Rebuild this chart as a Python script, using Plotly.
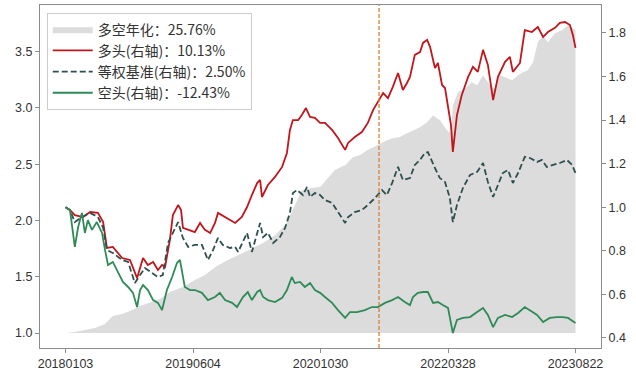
import plotly.graph_objects as go

# x positions are trading-day indices (0 = 20180103, 1368 = 20230822)
tick_idx = [0, 342, 684, 1026, 1368]
tick_labels = ["20180103", "20190604", "20201030", "20220328", "20230822"]
split_idx = 841

# 多空年化 (left axis, filled from 1.0)
ls_idx = [0, 25, 52, 79, 106, 127, 152, 173, 200, 227, 253, 280, 315, 347, 374, 406, 441, 481,
          530, 562, 589, 607, 621, 634, 661, 683, 704, 723, 737, 750, 771, 790, 809, 830, 843,
          862, 878, 897, 916, 932, 951, 970, 986, 997, 1004, 1023, 1034, 1039, 1053, 1072, 1090,
          1104, 1120, 1139, 1152, 1165, 1179, 1198, 1214, 1227, 1240, 1254, 1267, 1281, 1294,
          1313, 1332, 1348, 1361, 1368]
ls_val = [1.000, 1.009, 1.027, 1.044, 1.080, 1.151, 1.169, 1.195, 1.240, 1.275, 1.302, 1.364,
          1.409, 1.471, 1.515, 1.595, 1.657, 1.719, 1.799, 1.870, 1.959, 2.075, 2.181, 2.270,
          2.288, 2.297, 2.377, 2.448, 2.474, 2.492, 2.563, 2.581, 2.625, 2.661, 2.687, 2.714,
          2.732, 2.741, 2.776, 2.803, 2.829, 2.874, 2.936, 2.909, 2.892, 2.803, 2.776, 3.025,
          3.140, 3.176, 3.229, 3.202, 3.291, 3.202, 3.176, 3.291, 3.273, 3.247, 3.291, 3.318,
          3.336, 3.407, 3.584, 3.647, 3.584, 3.664, 3.691, 3.735, 3.709, 3.691]

# 多头 (right axis)
long_idx = [0, 12, 25, 47, 66, 87, 101, 111, 127, 138, 152, 173, 192, 208, 221, 235, 248, 259,
            267, 280, 288, 302, 310, 315, 329, 347, 361, 374, 388, 401, 409, 428, 455, 473, 487,
            500, 514, 522, 527, 543, 562, 581, 594, 602, 610, 624, 634, 645, 656, 669, 683, 696,
            715, 731, 750, 758, 776, 795, 811, 825, 838, 852, 865, 878, 892, 905, 916, 924, 937,
            951, 959, 970, 978, 991, 999, 1010, 1018, 1026, 1034, 1039, 1045, 1050, 1063, 1080,
            1093, 1106, 1120, 1133, 1147, 1160, 1179, 1192, 1200, 1219, 1232, 1251, 1267, 1281,
            1294, 1313, 1326, 1340, 1353, 1361, 1368]
long_val = [1.000, 0.987, 0.964, 0.955, 0.978, 0.974, 0.932, 0.813, 0.818, 0.795, 0.767, 0.758,
            0.675, 0.767, 0.735, 0.749, 0.712, 0.735, 0.726, 0.850, 0.964, 1.010, 0.987, 0.905,
            0.896, 0.886, 0.928, 0.896, 0.882, 0.928, 0.974, 0.955, 0.928, 0.955, 1.001, 1.056,
            1.111, 1.125, 1.047, 1.102, 1.139, 1.185, 1.249, 1.355, 1.400, 1.400, 1.423, 1.455,
            1.414, 1.410, 1.387, 1.387, 1.355, 1.318, 1.263, 1.295, 1.322, 1.345, 1.387, 1.446,
            1.483, 1.524, 1.501, 1.552, 1.616, 1.538, 1.570, 1.598, 1.699, 1.712, 1.754, 1.768,
            1.735, 1.639, 1.662, 1.561, 1.547, 1.469, 1.377, 1.254, 1.355, 1.423, 1.515, 1.598,
            1.644, 1.621, 1.722, 1.653, 1.492, 1.598, 1.667, 1.690, 1.621, 1.662, 1.813, 1.804,
            1.827, 1.781, 1.804, 1.823, 1.846, 1.850, 1.836, 1.790, 1.731]

# 等权基准 (right axis)
bench_idx = [0, 12, 25, 44, 66, 87, 101, 111, 127, 152, 168, 186, 200, 213, 232, 248, 261, 275,
             288, 302, 315, 329, 347, 366, 382, 396, 409, 422, 441, 455, 463, 476, 487, 500, 514,
             522, 530, 543, 557, 575, 589, 602, 610, 621, 637, 648, 656, 669, 683, 696, 715, 731,
             750, 758, 776, 795, 811, 830, 849, 862, 876, 892, 905, 924, 937, 951, 964, 972, 983,
             991, 1004, 1018, 1031, 1039, 1050, 1066, 1085, 1104, 1120, 1133, 1147, 1160, 1173,
             1187, 1200, 1214, 1232, 1246, 1265, 1278, 1291, 1308, 1326, 1345, 1359, 1368]
bench_val = [1.000, 0.987, 0.932, 0.955, 0.974, 0.955, 0.905, 0.804, 0.790, 0.758, 0.749, 0.652,
             0.689, 0.721, 0.698, 0.680, 0.689, 0.836, 0.882, 0.932, 0.859, 0.818, 0.827, 0.827,
             0.758, 0.804, 0.859, 0.827, 0.813, 0.818, 0.795, 0.841, 0.882, 0.795, 0.882, 0.928,
             0.863, 0.882, 0.836, 0.863, 0.905, 0.974, 1.065, 1.079, 1.056, 1.093, 1.047, 1.065,
             1.056, 1.033, 1.020, 0.978, 0.928, 0.955, 0.978, 0.987, 1.010, 1.042, 1.079, 1.056,
             1.111, 1.185, 1.125, 1.134, 1.194, 1.217, 1.249, 1.253, 1.208, 1.180, 1.134, 1.116,
             1.042, 0.932, 1.010, 1.088, 1.148, 1.162, 1.203, 1.116, 1.047, 1.102, 1.157, 1.171,
             1.111, 1.157, 1.231, 1.226, 1.208, 1.217, 1.185, 1.194, 1.203, 1.217, 1.194, 1.157]

# 空头 (right axis)
short_idx = [0, 12, 25, 34, 44, 52, 60, 71, 84, 98, 106, 114, 127, 141, 154, 168, 181, 192, 200,
             208, 221, 235, 248, 259, 272, 286, 299, 307, 320, 334, 347, 366, 382, 401, 414, 428,
             447, 460, 476, 489, 500, 514, 522, 530, 543, 562, 581, 594, 607, 615, 629, 642, 656,
             669, 683, 696, 715, 731, 750, 763, 782, 803, 822, 838, 857, 876, 892, 910, 924, 932,
             945, 959, 972, 986, 999, 1012, 1026, 1039, 1050, 1066, 1085, 1104, 1120, 1133, 1147,
             1160, 1179, 1198, 1214, 1232, 1246, 1265, 1281, 1299, 1318, 1334, 1348, 1368]
short_val = [1.000, 0.987, 0.818, 0.909, 0.974, 0.882, 0.941, 0.896, 0.932, 0.882, 0.804, 0.735,
             0.749, 0.698, 0.657, 0.634, 0.607, 0.542, 0.620, 0.643, 0.620, 0.574, 0.561, 0.528,
             0.620, 0.680, 0.744, 0.758, 0.634, 0.620, 0.620, 0.607, 0.574, 0.588, 0.607, 0.574,
             0.561, 0.542, 0.588, 0.611, 0.574, 0.611, 0.620, 0.588, 0.574, 0.565, 0.584, 0.620,
             0.680, 0.652, 0.657, 0.634, 0.652, 0.620, 0.607, 0.588, 0.561, 0.528, 0.492, 0.519,
             0.519, 0.528, 0.542, 0.542, 0.561, 0.574, 0.588, 0.565, 0.551, 0.588, 0.607, 0.611,
             0.611, 0.561, 0.565, 0.551, 0.538, 0.423, 0.483, 0.492, 0.496, 0.519, 0.538, 0.506,
             0.450, 0.492, 0.506, 0.496, 0.515, 0.542, 0.528, 0.506, 0.473, 0.492, 0.496, 0.496,
             0.492, 0.469]

names = ["多空年化：25.76%", "多头(右轴)：10.13%", "等权基准(右轴)：2.50%", "空头(右轴)：-12.43%"]

CJK = "Noto Sans CJK SC"
NUM = "Liberation Sans"

fig = go.Figure()
fig.add_trace(go.Scatter(x=[ls_idx[0], ls_idx[-1]], y=[1.0, 1.0], mode="lines",
                         line=dict(width=0, color="rgba(0,0,0,0)"), showlegend=False,
                         hoverinfo="skip", yaxis="y"))
fig.add_trace(go.Scatter(x=ls_idx, y=ls_val, mode="lines", fill="tonexty",
                         fillcolor="#dcdcdc", line=dict(width=0, color="#dcdcdc"),
                         name=names[0], yaxis="y"))
fig.add_trace(go.Scatter(x=long_idx, y=long_val, mode="lines",
                         line=dict(color="#c0161c", width=1.8), name=names[1], yaxis="y2"))
fig.add_trace(go.Scatter(x=bench_idx, y=bench_val, mode="lines",
                         line=dict(color="#2f4f4f", width=1.8, dash="6px,3px"),
                         name=names[2], yaxis="y2"))
fig.add_trace(go.Scatter(x=short_idx, y=short_val, mode="lines",
                         line=dict(color="#2e8b57", width=1.8), name=names[3], yaxis="y2"))

fig.add_shape(type="line", x0=split_idx, x1=split_idx, xref="x", y0=0, y1=1, yref="paper",
              line=dict(color="#d98033", width=1.3, dash="4px,2px"))

axis_line = "#8c8c8c"
tickfont = dict(family=NUM, size=12.5, color="#333333")
fig.update_layout(
    width=636, height=378,
    margin=dict(l=40, r=35, t=5, b=30, autoexpand=False),
    paper_bgcolor="white", plot_bgcolor="white",
    font=dict(family=CJK, size=13, color="#333333"),
    showlegend=True,
    legend=dict(x=0.012, y=0.978, xanchor="left", yanchor="top", traceorder="normal",
                bgcolor="rgba(255,255,255,0.9)", bordercolor="#cccccc", borderwidth=1,
                font=dict(family=CJK, size=14, color="#333333"),
                tracegroupgap=0, itemwidth=40),
    xaxis=dict(range=[-68.4, 1436.4], tickmode="array", tickvals=tick_idx,
               ticktext=tick_labels, showgrid=False, zeroline=False, automargin=False,
               showline=True, linecolor=axis_line, linewidth=1.2, mirror=True,
               ticks="outside", ticklen=4, tickcolor=axis_line, tickfont=tickfont),
    yaxis=dict(range=[0.867, 3.915], tickmode="array",
               tickvals=[1.0, 1.5, 2.0, 2.5, 3.0, 3.5],
               ticktext=["1.0", "1.5", "2.0", "2.5", "3.0", "3.5"], automargin=False,
               showgrid=False, zeroline=False, showline=True, linecolor=axis_line,
               linewidth=1.2, ticks="outside", ticklen=4, tickcolor=axis_line,
               tickfont=tickfont),
    yaxis2=dict(range=[0.354, 1.928], overlaying="y", side="right", tickmode="array",
                tickvals=[0.4, 0.6, 0.8, 1.0, 1.2, 1.4, 1.6, 1.8],
                ticktext=["0.4", "0.6", "0.8", "1.0", "1.2", "1.4", "1.6", "1.8"],
                automargin=False,
                showgrid=False, zeroline=False, showline=True, linecolor=axis_line,
                linewidth=1.2, ticks="outside", ticklen=4, tickcolor=axis_line,
                tickfont=tickfont),
)

fig.write_html("out.html", config={"displayModeBar": False},
               post_script="document.body.style.margin='0';document.body.style.padding='0';")
